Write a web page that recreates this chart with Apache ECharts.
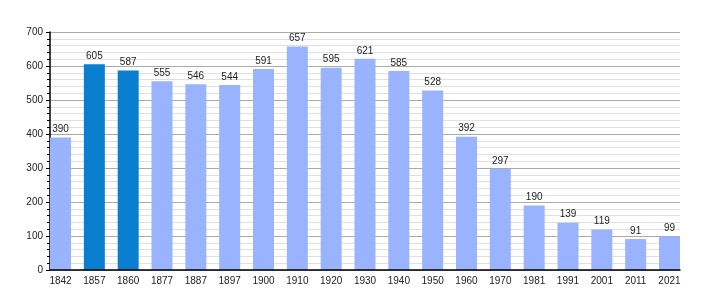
<!DOCTYPE html>
<html>
<head>
<meta charset="utf-8">
<script src="https://cdn.jsdelivr.net/npm/echarts@6/dist/echarts.min.js"></script>
<style>html,body{margin:0;padding:0;background:#fff}#c{width:710px;height:300px}</style>
</head>
<body>
<div id="c"></div>
<script>
var categories = ['1842','1857','1860','1877','1887','1897','1900','1910','1920','1930','1940','1950','1960','1970','1981','1991','2001','2011','2021'];
var values = [390,605,587,555,546,544,591,657,595,621,585,528,392,297,190,139,119,91,99];
var highlighted = ['1857','1860'];
var yTicks = [0,100,200,300,400,500,600,700];

var light = '#99b3ff', dark = '#0a7fd0';
var chart = echarts.init(document.getElementById('c'), null, {renderer:'canvas'});
var font = 'Liberation Sans, Arial, sans-serif';
chart.setOption({
  animation: false,
  grid: [
    {left: 50, right: 30, top: 32, bottom: 30},
    {left: 43.6, right: 23.6, top: 32, bottom: 30}
  ],
  xAxis: [
    {type:'value', gridIndex:0, min:0, max:1, z:20, axisLine:{show:true, onZero:false, lineStyle:{color:'#000', width:1.5}}, axisTick:{show:false}, axisLabel:{show:false}, splitLine:{show:false}},
    {type:'category', gridIndex:1, data:categories, axisLine:{show:false}, axisTick:{show:false},
     axisLabel:{fontSize:10, color:'#222', fontFamily:font, margin:6}}
  ],
  yAxis: [
    {type:'value', gridIndex:0, min:yTicks[0], max:yTicks[yTicks.length-1], interval:100, z:0,
     axisLine:{show:true, lineStyle:{color:'#000', width:1.5}},
     axisTick:{show:true, length:4, lineStyle:{color:'#000'}},
     minorTick:{show:true, splitNumber:5, length:3, lineStyle:{color:'#000'}},
     splitLine:{show:true, lineStyle:{color:'#aaa'}},
     minorSplitLine:{show:true, lineStyle:{color:'#e0e0e0'}},
     axisLabel:{fontSize:10, color:'#222', fontFamily:font, margin:7}},
    {type:'value', gridIndex:1, min:yTicks[0], max:yTicks[yTicks.length-1], show:false, splitLine:{show:false}}
  ],
  series: [{
    type:'bar', xAxisIndex:1, yAxisIndex:1, barWidth:21, z:10,
    data: values.map(function(v,i){
      return {value:v, itemStyle:{color: highlighted.indexOf(categories[i])>=0 ? dark : light}};
    }),
    label:{show:true, position:'top', distance:3, fontSize:10, color:'#222', fontFamily:font}
  }]
});
</script>
</body>
</html>
